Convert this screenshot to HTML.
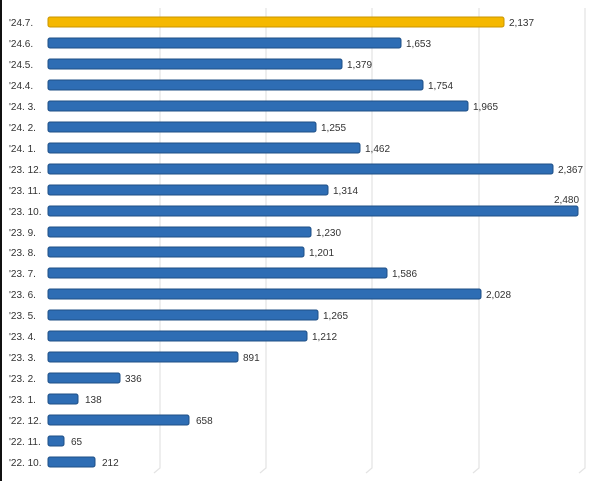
<!DOCTYPE html>
<html><head><style>
body{margin:0;width:600px;height:481px;background:#fff;overflow:hidden}
svg text{font-family:"Liberation Sans",sans-serif;font-size:10px;fill:#333}
.b{fill:#2e6db4;stroke:#1f4f86;stroke-width:1}
</style></head><body>
<svg width="600" height="481" xmlns="http://www.w3.org/2000/svg">
<rect x="0" y="0" width="2" height="481" fill="#111"/>
<g stroke="#e3e3e3" stroke-width="1.2" fill="none">
<path d="M160,8V468l-6,5"/><path d="M266,8V468l-6,5"/><path d="M372,8V468l-6,5"/><path d="M479,8V468l-6,5"/><path d="M585,8V468l-6,5"/>
</g>
<g>
<text x="9" y="26">'24.7.</text><rect x="48" y="17" width="456" height="10" rx="2" fill="#f5b800" stroke="#c99500"/><text x="509" y="26">2,137</text>
<text x="9" y="47">'24.6.</text><rect class="b" x="48" y="38" width="353" height="10" rx="2"/><text x="406" y="47">1,653</text>
<text x="9" y="68">'24.5.</text><rect class="b" x="48" y="59" width="294" height="10" rx="2"/><text x="347" y="68">1,379</text>
<text x="9" y="89">'24.4.</text><rect class="b" x="48" y="80" width="375" height="10" rx="2"/><text x="428" y="89">1,754</text>
<text x="9" y="110">'24. 3.</text><rect class="b" x="48" y="101" width="420" height="10" rx="2"/><text x="473" y="110">1,965</text>
<text x="9" y="131">'24. 2.</text><rect class="b" x="48" y="122" width="268" height="10" rx="2"/><text x="321" y="131">1,255</text>
<text x="9" y="152">'24. 1.</text><rect class="b" x="48" y="143" width="312" height="10" rx="2"/><text x="365" y="152">1,462</text>
<text x="9" y="173">'23. 12.</text><rect class="b" x="48" y="164" width="505" height="10" rx="2"/><text x="558" y="173">2,367</text>
<text x="9" y="194">'23. 11.</text><rect class="b" x="48" y="185" width="280" height="10" rx="2"/><text x="333" y="194">1,314</text>
<text x="9" y="215">'23. 10.</text><rect class="b" x="48" y="206" width="530" height="10" rx="2"/><text x="554" y="203">2,480</text>
<text x="9" y="236">'23. 9.</text><rect class="b" x="48" y="227" width="263" height="10" rx="2"/><text x="316" y="236">1,230</text>
<text x="9" y="256">'23. 8.</text><rect class="b" x="48" y="247" width="256" height="10" rx="2"/><text x="309" y="256">1,201</text>
<text x="9" y="277">'23. 7.</text><rect class="b" x="48" y="268" width="339" height="10" rx="2"/><text x="392" y="277">1,586</text>
<text x="9" y="298">'23. 6.</text><rect class="b" x="48" y="289" width="433" height="10" rx="2"/><text x="486" y="298">2,028</text>
<text x="9" y="319">'23. 5.</text><rect class="b" x="48" y="310" width="270" height="10" rx="2"/><text x="323" y="319">1,265</text>
<text x="9" y="340">'23. 4.</text><rect class="b" x="48" y="331" width="259" height="10" rx="2"/><text x="312" y="340">1,212</text>
<text x="9" y="361">'23. 3.</text><rect class="b" x="48" y="352" width="190" height="10" rx="2"/><text x="243" y="361">891</text>
<text x="9" y="382">'23. 2.</text><rect class="b" x="48" y="373" width="72" height="10" rx="2"/><text x="125" y="382">336</text>
<text x="9" y="403">'23. 1.</text><rect class="b" x="48" y="394" width="30" height="10" rx="2"/><text x="85" y="403">138</text>
<text x="9" y="424">'22. 12.</text><rect class="b" x="48" y="415" width="141" height="10" rx="2"/><text x="196" y="424">658</text>
<text x="9" y="445">'22. 11.</text><rect class="b" x="48" y="436" width="16" height="10" rx="2"/><text x="71" y="445">65</text>
<text x="9" y="466">'22. 10.</text><rect class="b" x="48" y="457" width="47" height="10" rx="2"/><text x="102" y="466">212</text>
</g>
</svg>
</body></html>
